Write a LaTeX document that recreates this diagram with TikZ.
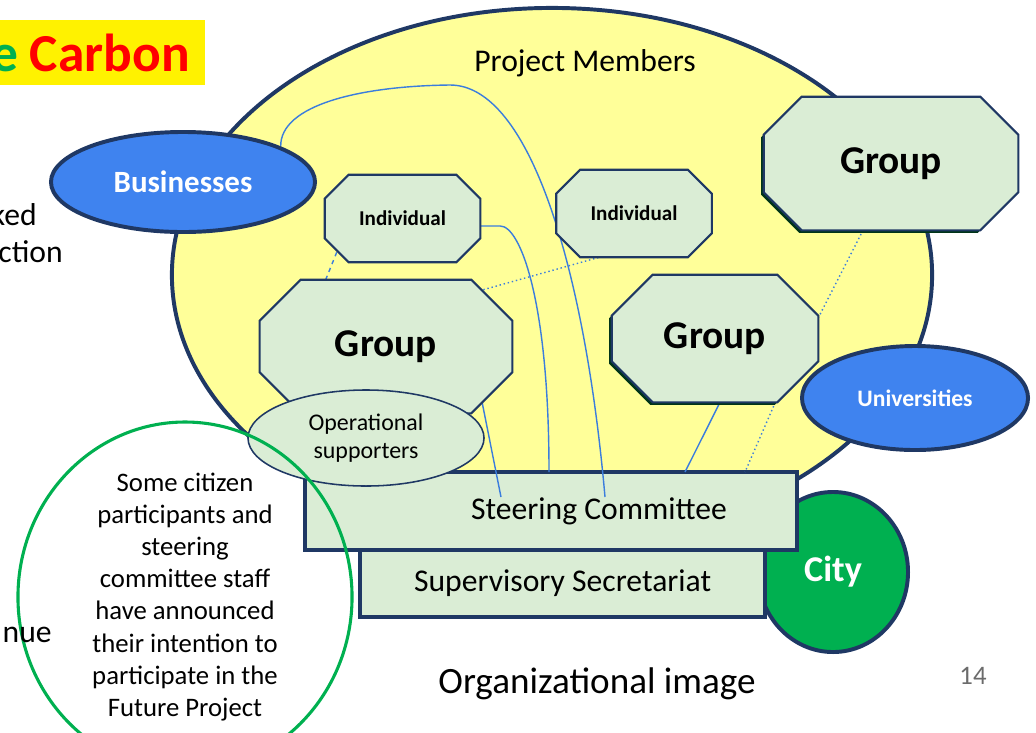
\documentclass[tikz,border=0pt]{standalone}
\usepackage{fontspec}
\setmainfont{Carlito}
\usetikzlibrary{shapes.geometric, positioning, calc}
\definecolor{org_navy}{HTML}{1F3864}
\definecolor{org_yellow}{HTML}{FFFF99}
\definecolor{org_mint}{HTML}{DAEDD5}
\definecolor{org_blue}{HTML}{3F83EF}
\definecolor{org_link}{HTML}{3B7DDD}
\definecolor{org_green}{HTML}{00B050}
\definecolor{org_grey}{HTML}{6B6B6B}
\pgfdeclarelayer{back}
\pgfdeclarelayer{mid}
\pgfdeclarelayer{shapes}
\pgfsetlayers{back,mid,shapes,main}
\tikzset{
  members/.style={ellipse,draw=org_navy,line width=2.8pt,fill=org_yellow,inner sep=0,minimum width=19cm,minimum height=13.35cm},
  partner/.style={ellipse,draw=org_navy,line width=2.8pt,fill=org_blue,text=white,inner sep=0},
  unit/.style={rectangle,inner sep=0},
  unit_s/.style={unit,minimum width=3.875cm,minimum height=2.175cm,font=\bfseries\fontsize{15}{18}\selectfont},
  unit_l/.style={unit,font=\bfseries\fontsize{28}{34}\selectfont},
  unitline/.style={draw=org_navy,line width=1.5pt,fill=org_mint,line join=miter},
  unitshadow/.style={fill=black!70!org_green,draw=none,transform canvas={xshift=-1.8pt,yshift=-1.8pt}},
  board/.style={rectangle,draw=org_navy,line width=3pt,fill=org_mint,inner sep=0,outer sep=0,font=\fontsize{22.5}{27}\selectfont},
  link/.style={draw=org_link,line width=1pt},
  plain/.style={font=\fontsize{22.5}{27}\selectfont,inner sep=0},
}
% octagon drawn round a unit node: #2 node, #3 cut
\newcommand\unitshape[3][unitline]{%
  \path[#1] ($(#2.north west)+(#3,0)$) -- ($(#2.north east)+(-#3,0)$)
    -- ($(#2.north east)+(0,#3)$) -- ($(#2.south east)+(0,-#3)$)
    -- ($(#2.south east)+(-#3,0)$) -- ($(#2.south west)+(#3,0)$)
    -- ($(#2.south west)+(0,-#3)$) -- ($(#2.north west)+(0,#3)$) -- cycle;}

\begin{document}
\begin{tikzpicture}[x=0.025cm,y=-0.025cm]
  \useasboundingbox (0,0) rectangle (1036,732);
  \begin{pgfonlayer}{back}
    \node[members] (members) at (552,275) {};
    \node[ellipse,draw=org_navy,line width=2.8pt,fill=org_green,text=white,inner sep=0,
          minimum width=3.75cm,minimum height=4cm,font=\bfseries\fontsize{25.8}{30}\selectfont] (city) at (833,572) {City};
    \node[board,minimum width=12.3cm,minimum height=1.95cm] (steer) at (551,511) {\hspace*{2.4cm}Steering Committee};
    \node[board,minimum width=10.125cm,minimum height=1.675cm,below=0pt of steer,xshift=0.29cm] (secr) {Supervisory Secretariat};
  \end{pgfonlayer}

  % members inside the circle
  \node[plain] (pmlabel) at (585,63) {Project Members};
  \node[unit_s] (indA) at (402.5,218.5) {Individual};
  \node[unit_s] (indB) at (634,213.5) {Individual};
  \node[unit_l,minimum width=6.3cm,minimum height=3.325cm] (grpA) at (386,346.5) {Group};
  \node[unit_l,minimum width=5.15cm,minimum height=3.175cm] (grpB) at (715,338.5) {Group};
  \node[unit_l,minimum width=6.35cm,minimum height=3.325cm] (grpC) at (891,163.5) {Group};
  \begin{pgfonlayer}{shapes}
    \unitshape{indA}{24}
    \unitshape{indB}{24}
    \unitshape{grpA}{41}
    \unitshape[unitshadow]{grpB}{41}
    \unitshape{grpB}{41}
    \unitshape[unitshadow]{grpC}{38}
    \unitshape{grpC}{38}
  \end{pgfonlayer}
  \node[ellipse,draw=org_navy,line width=1.1pt,fill=org_mint,inner sep=0,minimum width=5.9cm,minimum height=2.4cm,
        align=center,font=\fontsize{17}{20}\selectfont] (ops) at (366,438) {Operational\\supporters};
  \node[partner,minimum width=6.6cm,minimum height=2.5cm,font=\bfseries\fontsize{22}{26}\selectfont] (biz) at (183,182) {Businesses};
  \node[partner,minimum width=5.65cm,minimum height=2.6cm,font=\bfseries\fontsize{16.8}{20}\selectfont] (univ) at (915,398) {Universities};

  \coordinate (c1) at (605,497);
  \coordinate (c2) at (501,497);
  \begin{pgfonlayer}{mid}
    \draw[link] (biz.20) .. controls (280,105) and (360,86) .. (450,85)
                .. controls (530,85) and (585,270) .. (c1);
    \draw[link] ($(indA.east)+(0,7.5)$) -- ++(20,0) .. controls (520,226) and (549,300) .. (549,0 |- steer.north);
    \draw[link] ($(indB.south)+(-19,0)$) -- ($(indB.south)+(-19,0)$ |- steer.north);
    \draw[link] ($(grpA.south east)+(-34,-30)$) -- (c2);
    \draw[link] ($(grpB.south)+(5,0)$) -- (685,0 |- steer.north);
    \draw[link,dotted] ($(grpB.south east)+(-43,0)$) -- (745,0 |- steer.north);
    \draw[link,dotted] ($(grpC.south)+(-28,0)$) -- ($(grpB.north east)+(0,43)$);
    \draw[link,dashed] ($(indA.south west)+(12,-10)$) -- ($(grpA.north west)+(66,0)$);
    \draw[link,dotted] ($(grpA.north east)+(-29,10)$) -- ($(indB.south west)+(43,0)$);
  \end{pgfonlayer}

  \node[ellipse,draw=org_green,line width=2.2pt,inner sep=0,minimum width=8.35cm,minimum height=7.2cm,
        align=center,font=\fontsize{19}{22.8}\selectfont] (future) at (185,597)
        {Some citizen\\participants and\\steering\\committee staff\\have announced\\their intention to\\participate in the\\Future Project};

  % slide leftovers
  \node[fill=yellow,anchor=east,minimum height=1.625cm,inner xsep=0.375cm,inner ysep=0,
        text=red,font=\bfseries\fontsize{38}{44}\selectfont] (title) at (205,52.5) {\textcolor{org_green}{e} Carbon};
  \node[plain,anchor=base east] (frag1) at (37,225) {ked};
  \node[plain,anchor=base east] (frag2) at (63,262) {ction};
  \node[plain,anchor=base east] (frag3) at (52,642) {nue};
  \node[plain,font=\fontsize{26.4}{31}\selectfont] (caption) at (597,684) {Organizational image};
  \node[plain,text=org_grey,font=\fontsize{19}{22}\selectfont] (pageno) at (973,676) {14};
\end{tikzpicture}
\end{document}
